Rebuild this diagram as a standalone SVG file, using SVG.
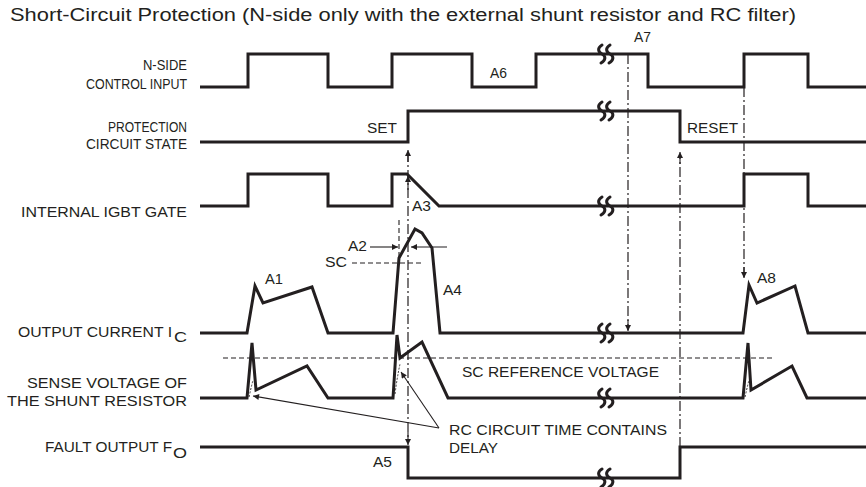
<svg xmlns="http://www.w3.org/2000/svg" width="866" height="487" viewBox="0 0 866 487">
<style>
text{font-family:"Liberation Sans",Arial,Helvetica,sans-serif;fill:#231f20;font-size:14px}
.title{font-size:17.5px}
.sig{fill:none;stroke:#231f20;stroke-width:3;stroke-linejoin:miter;stroke-linecap:butt}
.dd{fill:none;stroke:#231f20;stroke-width:1.2;stroke-dasharray:10 3 2 3}
.dash{fill:none;stroke:#231f20;stroke-width:1.1;stroke-dasharray:5 3}
.thin{fill:none;stroke:#231f20;stroke-width:1.1}
.rc{fill:none;stroke:#231f20;stroke-width:0.9;stroke-dasharray:2 1.5}
.brk{fill:none;stroke:#231f20;stroke-width:3;stroke-linecap:round}
</style>
<defs>
<marker id="ah" viewBox="0 0 10 10" refX="10" refY="5" markerWidth="9" markerHeight="6" markerUnits="userSpaceOnUse" orient="auto">
<path d="M0,0 L10,5 L0,10 z" fill="#231f20"/>
</marker>
<g id="brk">
<path class="brk" d="M-3,-9 C-8,-6 -7,-2 -3,0 C1,2 1,6 -4,9"/>
<path class="brk" d="M5,-9 C0,-6 1,-2 5,0 C9,2 9,6 4,9"/>
</g>
</defs>
<rect width="866" height="487" fill="#ffffff"/>
<text class="title" x="10" y="21" textLength="786" lengthAdjust="spacingAndGlyphs">Short-Circuit Protection (N-side only with the external shunt resistor and RC filter)</text>

<g id="labels" text-anchor="end">
<text x="187" y="70" textLength="44" lengthAdjust="spacingAndGlyphs">N-SIDE</text>
<text x="187" y="89" textLength="101" lengthAdjust="spacingAndGlyphs">CONTROL INPUT</text>
<text x="187" y="132" textLength="79" lengthAdjust="spacingAndGlyphs">PROTECTION</text>
<text x="187" y="149" textLength="101" lengthAdjust="spacingAndGlyphs">CIRCUIT STATE</text>
<text x="187" y="217" textLength="166" lengthAdjust="spacingAndGlyphs">INTERNAL IGBT GATE</text>
<text x="172" y="337" textLength="154" lengthAdjust="spacingAndGlyphs">OUTPUT CURRENT I</text>
<text x="187" y="342" textLength="13" lengthAdjust="spacingAndGlyphs">C</text>
<text x="172" y="452" textLength="127" lengthAdjust="spacingAndGlyphs">FAULT OUTPUT F</text>
<text x="187" y="458" textLength="14" lengthAdjust="spacingAndGlyphs">O</text>
<text x="187" y="388" textLength="160" lengthAdjust="spacingAndGlyphs">SENSE VOLTAGE OF</text>
<text x="187" y="406" textLength="180" lengthAdjust="spacingAndGlyphs">THE SHUNT RESISTOR</text>
</g>

<g id="connectors">
<path class="dd" d="M408,152 V443"/>
<path class="dd" d="M628,54 V330"/>
<path class="dd" d="M680,447 V154"/>
<path class="dd" d="M744,87 V277"/>
<path class="thin" d="M408,162 V150" marker-end="url(#ah)"/>
<path class="thin" d="M408,190 V176" marker-end="url(#ah)"/>
<path class="thin" d="M408,432 V445" marker-end="url(#ah)"/>
<path class="thin" d="M628,320 V331" marker-end="url(#ah)"/>
<path class="thin" d="M680,164 V152" marker-end="url(#ah)"/>
<path class="thin" d="M744,267 V278" marker-end="url(#ah)"/>
<path class="dash" d="M399,220 V257"/>
<path class="dash" d="M352,263 H422"/>
<path class="thin" d="M370,247 H398" marker-end="url(#ah)"/>
<path class="thin" d="M447,247 H411" marker-end="url(#ah)"/>
<path class="dash" d="M223,358 H773"/>
<path class="thin" d="M439,428 L253,396" marker-end="url(#ah)"/>
<path class="thin" d="M439,428 L401,372" marker-end="url(#ah)"/>
</g>

<g id="n-side-control-input">
<path class="sig" d="M200,87 H248 V54 H328 V87 H392 V54 H472 V87 H536 V54 H648 V87 H744 V54 H808 V87 H866"/>
<use href="#brk" x="605" y="54"/>
<text x="490" y="78" textLength="17" lengthAdjust="spacingAndGlyphs">A6</text>
<text x="634" y="42" textLength="17" lengthAdjust="spacingAndGlyphs">A7</text>
</g>

<g id="protection-circuit-state">
<path class="sig" d="M200,142 H408 V111 H680 V142 H866"/>
<use href="#brk" x="605" y="111"/>
<text x="367" y="133" textLength="30" lengthAdjust="spacingAndGlyphs">SET</text>
<text x="687" y="133" textLength="51" lengthAdjust="spacingAndGlyphs">RESET</text>
</g>

<g id="internal-igbt-gate">
<path class="sig" d="M200,206 H248 V174 H328 V206 H392 V174 H407 L439,206 H744 V174 H808 V206 H866"/>
<use href="#brk" x="605" y="206"/>
<text x="412" y="211" textLength="19" lengthAdjust="spacingAndGlyphs">A3</text>
</g>

<g id="output-current">
<path class="sig" d="M200,333 H247 L255,286 L263,303 L312,287 L328,333 H393 L399,258 L415,229 L422,233 L432,248 L440,333 H743 L749,285 L757,303 L795,286 L808,333 H866"/>
<use href="#brk" x="605" y="333"/>
<text x="348" y="251" textLength="19" lengthAdjust="spacingAndGlyphs">A2</text>
<text x="325" y="267" textLength="22" lengthAdjust="spacingAndGlyphs">SC</text>
<text x="265" y="284" textLength="18" lengthAdjust="spacingAndGlyphs">A1</text>
<text x="443" y="295" textLength="19" lengthAdjust="spacingAndGlyphs">A4</text>
<text x="757" y="283" textLength="19" lengthAdjust="spacingAndGlyphs">A8</text>
</g>

<g id="sense-voltage">
<path class="sig" d="M200,398 H247 L252,343 L256,390 L307,366 L328,398 H393 L397,335 L400,358 L422,342 L448,398 H743 L748,343 L751,390 L792,366 L807,398 H866"/>
<path class="rc" d="M249,397 Q251,388 253,380"/>
<path class="rc" d="M395,394 Q397,378 400,364"/>
<path class="rc" d="M745,397 Q747,388 749,380"/>
<use href="#brk" x="605" y="398"/>
<text x="462" y="377" textLength="197" lengthAdjust="spacingAndGlyphs">SC REFERENCE VOLTAGE</text>
<text x="449" y="435" textLength="218" lengthAdjust="spacingAndGlyphs">RC CIRCUIT TIME CONTAINS</text>
<text x="449" y="453" textLength="49" lengthAdjust="spacingAndGlyphs">DELAY</text>
</g>

<g id="fault-output">
<path class="sig" d="M200,447 H408 V478 H680 V447 H866"/>
<use href="#brk" x="605" y="478"/>
<text x="373" y="467" textLength="19" lengthAdjust="spacingAndGlyphs">A5</text>
</g>
</svg>
